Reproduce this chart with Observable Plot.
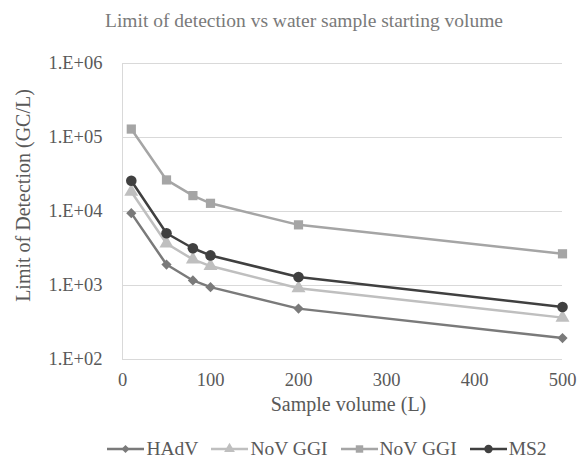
<!DOCTYPE html>
<html>
<head>
<meta charset="utf-8">
<script src="https://cdn.jsdelivr.net/npm/d3@7"></script>
<script src="https://cdn.jsdelivr.net/npm/@observablehq/plot@0.6"></script>
<style>
  body { margin: 0; background: #fff; font-family: "Liberation Serif", "Times New Roman", serif; color: #595959; }
  #wrap { width: 579px; height: 460px; position: relative; overflow: hidden; }
  #title { position: absolute; top: 10px; left: 304px; transform: translateX(-50%); white-space: nowrap; font-size: 19.5px; line-height: 22px; color: #7a7a7a; }
  #chart { position: absolute; left: 0; top: 0; }
  #legend { position: absolute; left: 0; top: 437px; width: 654px; display: flex; justify-content: center; align-items: center; gap: 13px; font-size: 19.5px; line-height: 24px; }
  .item { display: flex; align-items: center; }
  .item svg { margin-right: 2px; }
</style>
</head>
<body>
<div id="wrap">
  <div id="chart"></div>
  <div id="title">Limit of detection vs water sample starting volume</div>
  <div id="legend"></div>
</div>
<script>
const volumes = [10, 50, 80, 100, 200, 500];
const hadv = [9500, 1920, 1170, 950, 487, 195];
const novTri = [18500, 3700, 2250, 1830, 920, 368];
const novSq = [130000, 26700, 16400, 12900, 6600, 2680];
const ms2 = [26000, 5080, 3190, 2550, 1300, 512];
const seriesNames = ["HAdV", "NoV GGI", "NoV GGI", "MS2"];
const yTicks = [1e2, 1e3, 1e4, 1e5, 1e6];
const xTicks = [0, 100, 200, 300, 400, 500];

const styles = [
  {values: hadv, color: "#7a7a7a", symbol: "diamond2", r: 4.6, lr: 3.6},
  {values: novTri, color: "#bfbfbf", symbol: "triangle", r: 5.2, lr: 4},
  {values: novSq, color: "#a5a5a5", symbol: "square", r: 5.2, lr: 4.2},
  {values: ms2, color: "#404040", symbol: "circle", r: 5.3, lr: 4.2}
];

const font = '"Liberation Serif", "Times New Roman", serif';
const marks = [
  Plot.ruleY(yTicks, {stroke: "#d9d9d9", strokeWidth: 1}),
  Plot.ruleX([0], {stroke: "#d9d9d9", strokeWidth: 1}),
  Plot.axisY({ticks: yTicks, tickSize: 0, tickPadding: 20, tickFormat: d => "1.E+0" + Math.round(Math.log10(d)), fontSize: 18.5, fontFamily: font, label: null}),
  Plot.axisX({ticks: xTicks, tickSize: 0, tickPadding: 13, fontSize: 18.5, fontFamily: font, label: null}),
  Plot.text(["Sample volume (L)"], {frameAnchor: "bottom", dx: 6, dy: 51, fontSize: 20, fontFamily: font, fill: "#595959"}),
  Plot.text(["Limit of Detection (GC/L)"], {frameAnchor: "left", textAnchor: "middle", dx: -99, dy: -16, rotate: -90, fontSize: 20, fontFamily: font, fill: "#595959"})
];
styles.forEach((s, i) => {
  const data = volumes.map((v, j) => ({x: v, y: s.values[j], series: seriesNames[i]}));
  marks.push(Plot.line(data, {x: "x", y: "y", stroke: s.color, strokeWidth: 2.5}));
  marks.push(Plot.dot(data, {x: "x", y: "y", symbol: () => s.symbol, fill: s.color, stroke: "none", r: s.r}));
});

const chart = Plot.plot({
  width: 579,
  height: 460,
  marginLeft: 122,
  marginRight: 17,
  marginTop: 63,
  marginBottom: 101,
  style: {fontFamily: font, color: "#595959", background: "#fff", overflow: "visible"},
  x: {domain: [0, 500]},
  y: {type: "log", domain: [100, 1e6]},
  marks
});
document.getElementById("chart").appendChild(chart);

const symbolTypes = {circle: d3.symbolCircle, square: d3.symbolSquare, triangle: d3.symbolTriangle, diamond2: d3.symbolDiamond2 || d3.symbolDiamond};
const legend = document.getElementById("legend");
styles.forEach((s, i) => {
  const item = document.createElement("div");
  item.className = "item";
  const sym = d3.symbol(symbolTypes[s.symbol], Math.PI * s.lr * s.lr)();
  item.innerHTML = `<svg width="37" height="14"><line x1="0" y1="7" x2="37" y2="7" stroke="${s.color}" stroke-width="2.5"/><path d="${sym}" transform="translate(18.5,7)" fill="${s.color}"/></svg><span>${seriesNames[i]}</span>`;
  legend.appendChild(item);
});
</script>
</body>
</html>
